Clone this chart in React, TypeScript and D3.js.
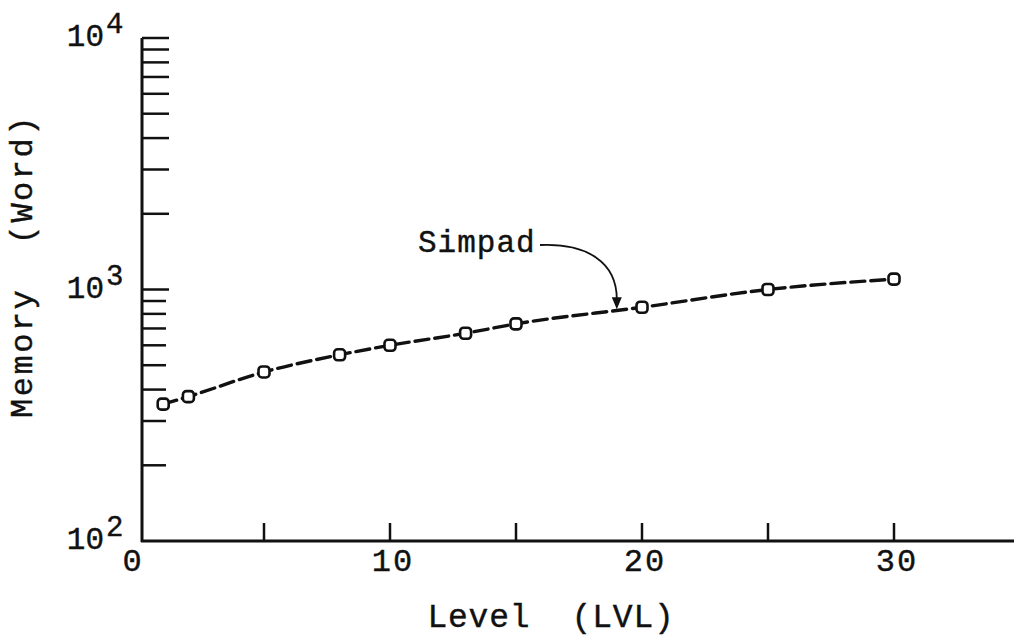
import { useRef, useEffect } from "react";
import * as d3 from "d3";

// Simpad memory use vs. level
const levels = [1, 2, 5, 8, 10, 13, 15, 20, 25, 30];
const memoryWords = [350, 375, 470, 550, 600, 670, 730, 850, 1000, 1100];

const xTicks = [5, 10, 15, 20, 25, 30];
const xTickLabels = [0, 10, 20, 30];
const yDecades = [2, 3, 4];
const seriesName = "Simpad";

const FONT = "'Liberation Mono', 'DejaVu Sans Mono', monospace";
const INK = "#111";

const App = () => {
  const svgRef = useRef<SVGSVGElement | null>(null);
  const width = 1014;
  const height = 640;

  useEffect(() => {
    document.body.style.margin = "0";
    const svg = d3.select(svgRef.current);
    svg.selectAll("*").remove();

    const axisX = 142; // vertical axis line
    const axisY = 541; // horizontal axis line

    const x = d3.scaleLinear().domain([0, 30]).range([138, 894]);
    const y = d3.scaleLog().domain([100, 10000]).range([axisY, 38]);

    const g = svg.append("g");

    // axes lines
    g.append("line")
      .attr("x1", axisX)
      .attr("x2", axisX)
      .attr("y1", y(10000))
      .attr("y2", axisY + 1)
      .attr("stroke", INK)
      .attr("stroke-width", 3);

    g.append("line")
      .attr("x1", axisX - 1)
      .attr("x2", width)
      .attr("y1", axisY)
      .attr("y2", axisY)
      .attr("stroke", INK)
      .attr("stroke-width", 3);

    // y minor/major ticks (log)
    const yTickVals: number[] = [];
    for (let d = 2; d < 4; d++) {
      for (let m = 1; m <= 9; m++) {
        const v = m * Math.pow(10, d);
        if (v > 100) yTickVals.push(v);
      }
    }
    yTickVals.push(10000);

    g.selectAll("line.ytick")
      .data(yTickVals)
      .join("line")
      .attr("class", "ytick")
      .attr("x1", axisX)
      .attr("x2", (d) => (d >= 1000 ? axisX + 27 : axisX + 24))
      .attr("y1", (d) => y(d))
      .attr("y2", (d) => y(d))
      .attr("stroke", INK)
      .attr("stroke-width", 2.5);

    // y decade labels
    const ylab = g
      .selectAll("g.ylab")
      .data(yDecades)
      .join("g")
      .attr("class", "ylab")
      .attr("transform", (d) => `translate(0,${y(Math.pow(10, d))})`);

    ylab
      .append("text")
      .attr("x", axisX - 38)
      .attr("y", 8)
      .attr("text-anchor", "end")
      .attr("font-family", FONT)
      .attr("font-size", 31)
      .attr("fill", INK)
      .attr("stroke", INK)
      .attr("stroke-width", 0.4)
      .text("10");

    ylab
      .append("text")
      .attr("x", axisX - 36)
      .attr("y", -5)
      .attr("font-family", FONT)
      .attr("font-size", 29)
      .attr("fill", INK)
      .attr("stroke", INK)
      .attr("stroke-width", 0.4)
      .text((d) => d);

    // x ticks
    g.selectAll("line.xtick")
      .data(xTicks)
      .join("line")
      .attr("class", "xtick")
      .attr("x1", (d) => x(d))
      .attr("x2", (d) => x(d))
      .attr("y1", axisY)
      .attr("y2", axisY - 18)
      .attr("stroke", INK)
      .attr("stroke-width", 2.5);

    g.selectAll("text.xlab")
      .data(xTickLabels)
      .join("text")
      .attr("class", "xlab")
      .attr("x", (d) => (d === 0 ? x(d) - 5 : x(d) + 3))
      .attr("y", axisY + 30)
      .attr("text-anchor", "middle")
      .attr("font-family", FONT)
      .attr("font-size", 32)
      .attr("letter-spacing", 2)
      .attr("fill", INK)
      .attr("stroke", INK)
      .attr("stroke-width", 0.4)
      .text((d) => d);

    // axis titles
    g.append("text")
      .attr("x", 551)
      .attr("y", 627)
      .attr("text-anchor", "middle")
      .attr("font-family", FONT)
      .attr("font-size", 33)
      .attr("letter-spacing", 0.8)
      .attr("fill", INK)
      .attr("stroke", INK)
      .attr("stroke-width", 0.4)
      .attr("xml:space", "preserve")
      .text("Level  (LVL)");

    g.append("text")
      .attr("transform", "translate(32,266) rotate(-90)")
      .attr("text-anchor", "middle")
      .attr("font-family", FONT)
      .attr("font-size", 32)
      .attr("letter-spacing", 2.5)
      .attr("fill", INK)
      .attr("stroke", INK)
      .attr("stroke-width", 0.4)
      .attr("xml:space", "preserve")
      .text("Memory  (Word)");

    // series line
    const pts = levels.map((l, i) => [l, memoryWords[i]] as [number, number]);
    const line = d3
      .line<[number, number]>()
      .x((d) => x(d[0]))
      .y((d) => y(d[1]))
      .curve(d3.curveMonotoneX);

    g.append("path")
      .attr("d", line(pts))
      .attr("fill", "none")
      .attr("stroke", INK)
      .attr("stroke-width", 3.4)
      .attr("stroke-dasharray", "14,6")
      .attr("stroke-linecap", "round");

    g.selectAll("rect.pt")
      .data(pts)
      .join("rect")
      .attr("class", "pt")
      .attr("x", (d) => x(d[0]) - 5.5)
      .attr("y", (d) => y(d[1]) - 5.5)
      .attr("width", 11)
      .attr("height", 11)
      .attr("rx", 3.5)
      .attr("fill", "#fff")
      .attr("stroke", INK)
      .attr("stroke-width", 2.6);

    // annotation
    g.append("text")
      .attr("x", 418)
      .attr("y", 252)
      .attr("font-family", FONT)
      .attr("font-size", 31)
      .attr("letter-spacing", 1)
      .attr("fill", INK)
      .attr("stroke", INK)
      .attr("stroke-width", 0.4)
      .text(seriesName);

    const tipX = x(19);
    const tipY = y(790) - 6;
    g.append("path")
      .attr(
        "d",
        `M${540},245 C${tipX - 30},243 ${tipX},262 ${tipX},${tipY - 10}`
      )
      .attr("fill", "none")
      .attr("stroke", INK)
      .attr("stroke-width", 1.8);

    g.append("path")
      .attr(
        "d",
        `M${tipX - 5},${tipY - 12} L${tipX + 5},${tipY - 12} L${tipX},${tipY} Z`
      )
      .attr("fill", INK);
  }, []);

  return (
    <div style={{ width: width, height: height, background: "#fff" }}>
      <svg ref={svgRef} width={width} height={height} style={{ display: "block" }} />
    </div>
  );
};

export default App;
